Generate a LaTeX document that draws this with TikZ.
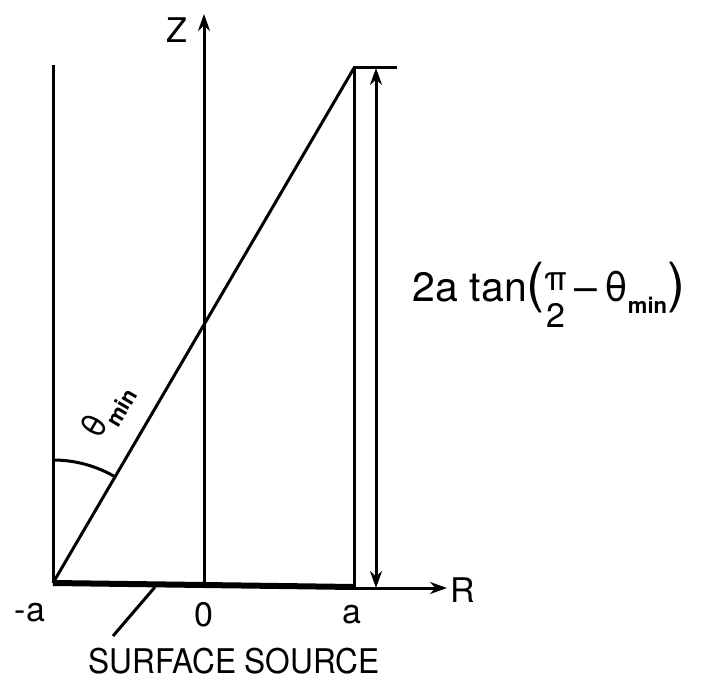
\documentclass[tikz,border=0pt]{standalone}
\usepackage{fontspec}
\setmainfont{TeX Gyre Heros}
\usetikzlibrary{arrows.meta}
\newcommand{\thmin}{θ\raisebox{-0.28em}{\fontsize{22}{22}\selectfont\bfseries min}}
\newcommand{\halfpi}{\raisebox{-26pt}{\fontsize{34}{34}\selectfont
  \vbox{\halign{\hfil##\hfil\cr π\cr\noalign{\kern3pt}2\cr}}}}

\begin{document}
\begin{tikzpicture}[x=1pt,y=1pt,line width=3pt,
    tip/.style={-{Stealth[length=17pt,width=12pt]}},
    dimline/.style={{Stealth[length=17pt,width=12pt]}-{Stealth[length=17pt,width=12pt]}},
    source/.style={line width=6pt},
    lbl/.style={font=\fontsize{34}{40}\selectfont, inner sep=1pt}]
  \useasboundingbox (0,0) rectangle (719,685);
  % points
  \coordinate (minusA) at (53,102);
  \coordinate (plusA) at (354,98);
  \coordinate (origin) at (204,100);
  \coordinate (wallL) at (53,620);
  \coordinate (wallR) at (354,98);
  \coordinate (topA) at (354,617);
  \coordinate (barEnd) at (397,617);
  \coordinate (zTip) at (204,671);
  \coordinate (rStart) at (354,97);
  \coordinate (rTip) at (447,97);
  \coordinate (dimTop) at (376,617);
  \coordinate (dimBot) at (376,97);
  \coordinate (leadFoot) at (113,49);
  \coordinate (leadHead) at (155,98);
  % walls and axes
  \draw (minusA) -- (wallL);
  \draw (wallR) -- (topA) -- (barEnd);
  \draw[tip] (origin) -- (zTip);
  \draw[tip] (rStart) -- (rTip);
  \draw[source] (minusA) -- (plusA);
  \draw (minusA) -- (topA);
  \draw[dimline] (dimTop) -- (dimBot);
  \draw (53,225) arc[start angle=90, end angle=59.5, radius=123];
  \draw (leadFoot) -- (leadHead);
  % labels
  \node[lbl] (zLbl) at (177,655) {Z};
  \node[lbl] (rLbl) at (463,95) {R};
  \node[lbl] (mLbl) at (30,72) {-a};
  \node[lbl] (oLbl) at (204,70) {0};
  \node[lbl] (aLbl) at (352,70) {a};
  \node[lbl, xscale=0.93] (srcLbl) at (234,24) {SURFACE SOURCE};
  \node[lbl, rotate=59.5] (thLbl) at (108,274) {\thmin};
  \node[lbl, font=\fontsize{41}{46}\selectfont] (hLbl) at (549,390) {2a tan{\fontsize{54}{54}\selectfont(}\halfpi\,–\,\thmin{\fontsize{54}{54}\selectfont)}};
\end{tikzpicture}
\end{document}
